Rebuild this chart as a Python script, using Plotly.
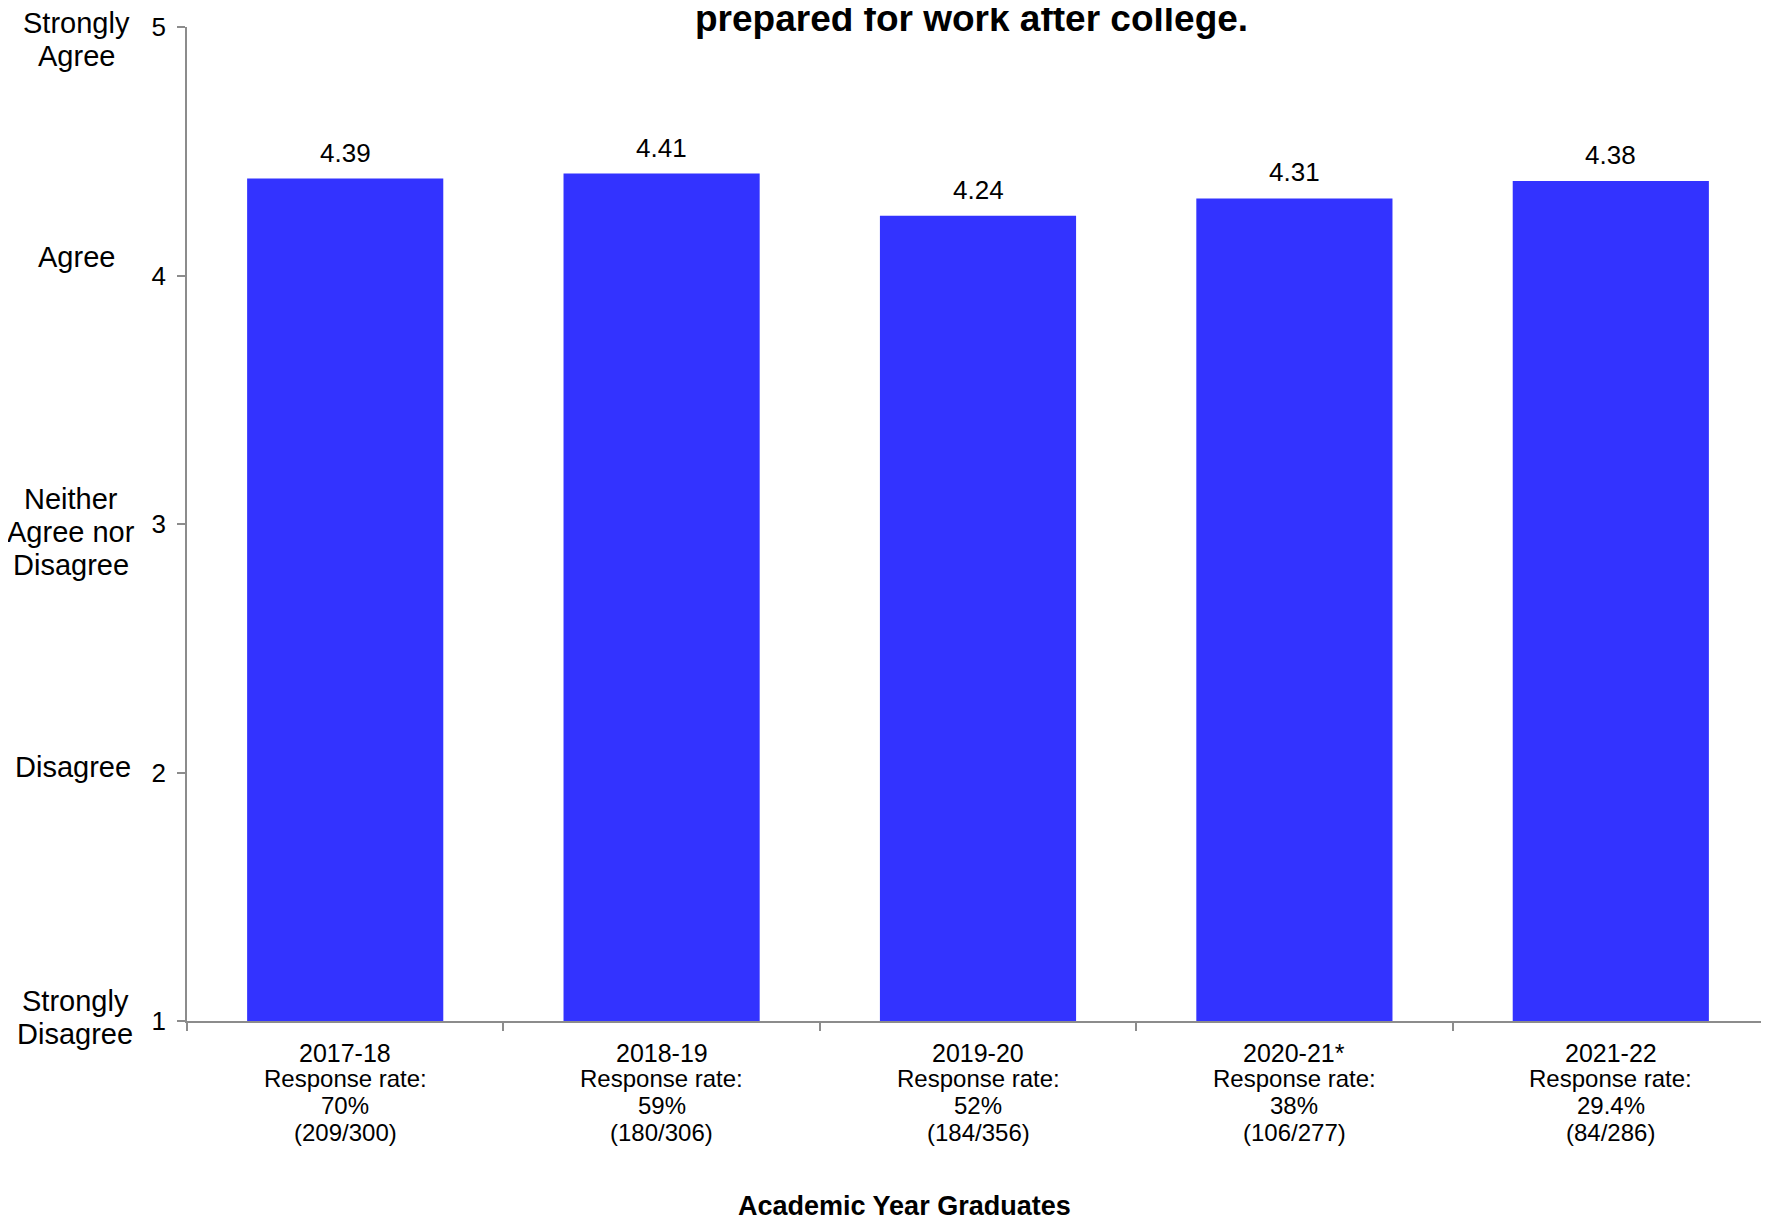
import plotly.graph_objects as go

# ---- data ----
years = ["2017-18", "2018-19", "2019-20", "2020-21*", "2021-22"]
means = [4.39, 4.41, 4.24, 4.31, 4.38]
response_rates = ["70%", "59%", "52%", "38%", "29.4%"]
counts = ["(209/300)", "(180/306)", "(184/356)", "(106/277)", "(84/286)"]
y_ticks = [1, 2, 3, 4, 5]
y_labels = [["Strongly", "Disagree"], ["Disagree"], ["Neither", "Agree nor", "Disagree"],
            ["Agree"], ["Strongly", "Agree"]]
title_line = "prepared for work after college."
x_title = "Academic Year Graduates"

FONT = "Liberation Sans, Arial, sans-serif"
W, H = 1761, 1212          # page body has an 8px margin
ML, MR, MT, MB = 179, 0, 19, 199

fig = go.Figure()
fig.add_trace(go.Bar(
    x=years, y=means,
    marker=dict(color="#3333FF", line=dict(width=0)),
    width=0.62,
    hoverinfo="skip",
))

ann = []
# value labels above bars
for yr, v in zip(years, means):
    ann.append(dict(x=yr, y=v, xref="x", yref="y", text=f"{v:.2f}", showarrow=False,
                    yanchor="bottom", yshift=9, font=dict(size=26, color="black", family=FONT)))

# category labels below axis (year, response rate text, %, counts)
line_offsets = [-32, -57, -84, -111]
for yr, rr, ct in zip(years, response_rates, counts):
    lines = [(yr, 25), ("Response rate:", 24), (rr, 24), (ct, 24)]
    for (txt, sz), off in zip(lines, line_offsets):
        ann.append(dict(x=yr, y=0, xref="x", yref="paper", text=txt, showarrow=False,
                        yanchor="middle", yshift=off, borderpad=0,
                        font=dict(size=sz, color="black", family=FONT)))

# y-axis descriptive labels (one annotation per line)
block_shift = [4, 6, -8, 19, -12]      # block centre offset from tick (px, up positive)
block_x = [-112, -114, -116, -111, -111]
LINE_H = 33
for t, lines, bs, bx in zip(y_ticks, y_labels, block_shift, block_x):
    n = len(lines)
    for i, txt in enumerate(lines):
        off = bs - (i - (n - 1) / 2) * LINE_H
        ann.append(dict(x=0, y=t, xref="paper", yref="y", text=txt, showarrow=False,
                        xanchor="center", yanchor="middle", xshift=bx, yshift=off, borderpad=0,
                        font=dict(size=29, color="black", family=FONT)))

# title (only visible line)
ann.append(dict(x=0, y=1, xref="paper", yref="paper", text=f"<b>{title_line}</b>", showarrow=False,
                xanchor="center", yanchor="bottom", xshift=784, yshift=-14,
                font=dict(size=37, color="black", family=FONT)))

# x-axis title
ann.append(dict(x=0, y=0, xref="paper", yref="paper", text=f"<b>{x_title}</b>", showarrow=False,
                xanchor="center", yanchor="middle", xshift=717, yshift=-185,
                font=dict(size=27, color="black", family=FONT)))

fig.update_layout(
    width=W, height=H,
    margin=dict(l=ML, r=MR, t=MT, b=MB, pad=0),
    paper_bgcolor="white", plot_bgcolor="white",
    showlegend=False,
    annotations=ann,
    font=dict(family=FONT, color="black"),
)
fig.update_xaxes(
    type="category", showticklabels=False, showgrid=False, zeroline=False,
    showline=True, linecolor="#8c8c8c", linewidth=2,
    ticks="outside", tickson="boundaries", ticklen=8, tickcolor="#8c8c8c", tickwidth=1.5,
)
fig.update_yaxes(
    range=[1, 5], tickvals=y_ticks, ticktext=[str(t) for t in y_ticks],
    showgrid=False, zeroline=False, showline=True, linecolor="#8c8c8c", linewidth=1.5,
    ticks="outside", ticklen=8, tickcolor="#8c8c8c", tickwidth=1.5,
    tickfont=dict(size=26, color="black", family=FONT), ticklabelstandoff=6,
)

fig.write_html("out.html")
